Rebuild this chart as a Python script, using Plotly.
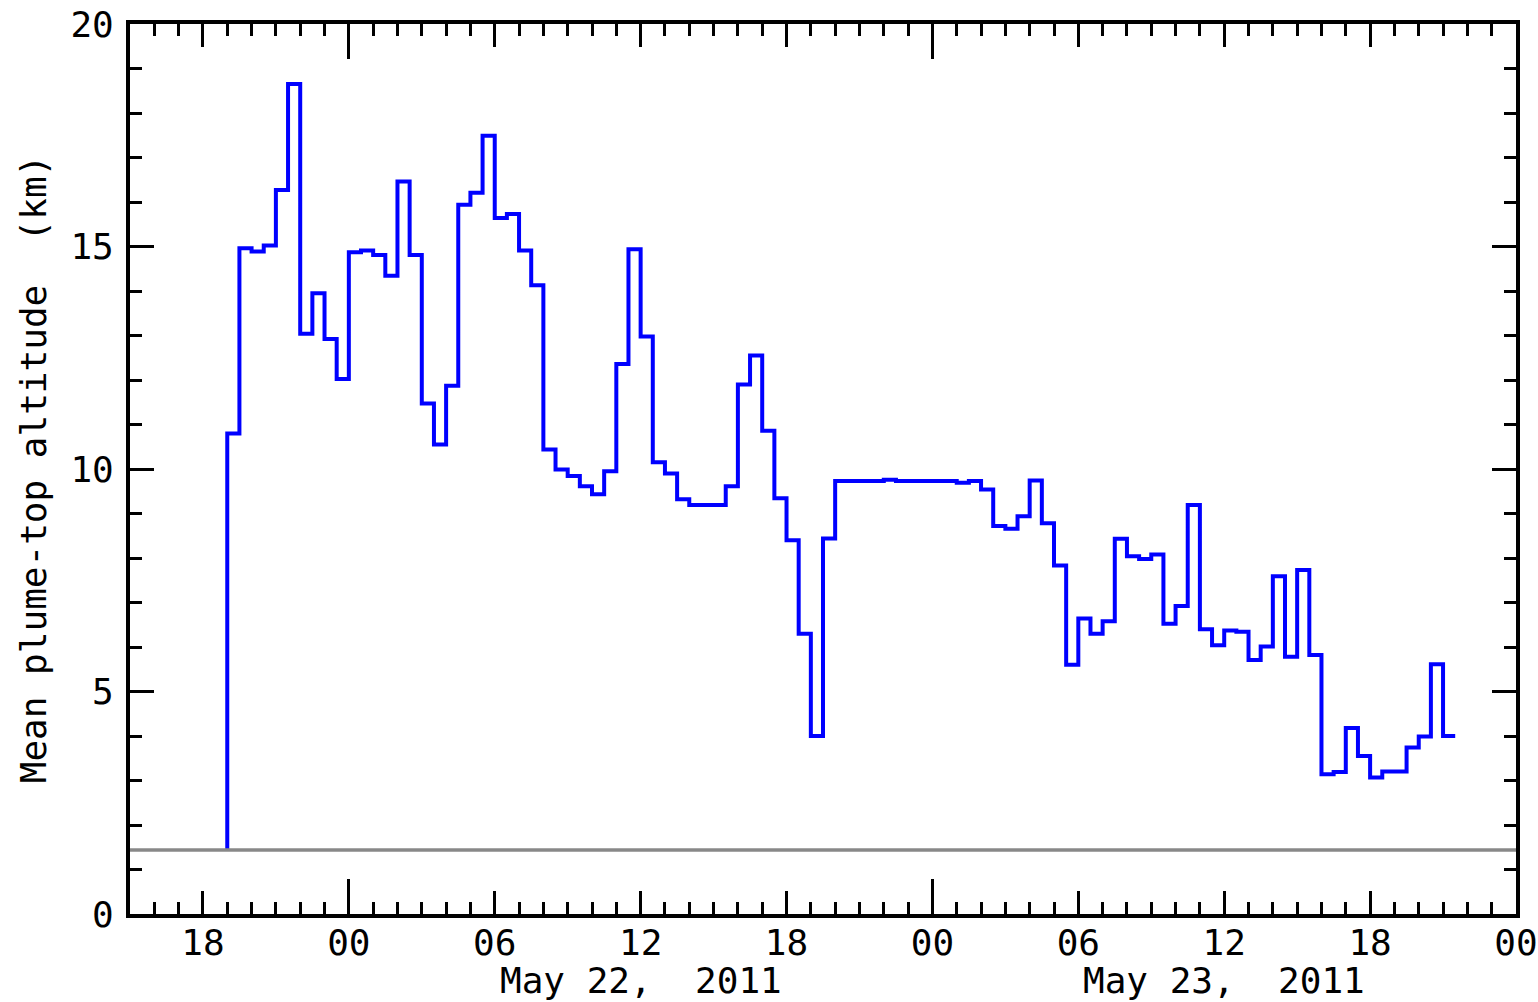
import pandas as pd
import plotly.graph_objects as go

# ---- data ----
bin_start = "2011-05-21 19:00"          # first half-hour bin
bin_minutes = 30
plume_top_km = [
    10.80, 14.96, 14.89, 15.02, 16.27, 18.65, 13.04, 13.95, 12.92, 12.02,
    14.87, 14.91, 14.81, 14.34, 16.46, 14.81, 11.47, 10.55, 11.87, 15.94,
    16.21, 17.49, 15.64, 15.73, 14.91, 14.13, 10.44, 9.99, 9.84, 9.61,
    9.43, 9.95, 12.36, 14.94, 12.98, 10.15, 9.90, 9.32, 9.19, 9.19,
    9.19, 9.61, 11.90, 12.55, 10.86, 9.34, 8.40, 6.30, 4.00, 8.44,
    9.73, 9.73, 9.73, 9.73, 9.76, 9.73, 9.73, 9.73, 9.73, 9.73,
    9.69, 9.73, 9.54, 8.72, 8.66, 8.94, 9.74, 8.78, 7.83, 5.60,
    6.64, 6.30, 6.58, 8.43, 8.04, 7.98, 8.08, 6.52, 6.92, 9.19,
    6.40, 6.04, 6.37, 6.34, 5.71, 6.01, 7.59, 5.78, 7.73, 5.82,
    3.14, 3.19, 4.18, 3.55, 3.07, 3.20, 3.20, 3.74, 3.99, 5.61,
    4.00,
]
vent_altitude_km = 1.44

x_range = ["2011-05-21 15:00", "2011-05-24 00:00"]
tick_vals = ["2011-05-21 18:00", "2011-05-22 00:00", "2011-05-22 06:00",
             "2011-05-22 12:00", "2011-05-22 18:00", "2011-05-23 00:00",
             "2011-05-23 06:00", "2011-05-23 12:00", "2011-05-23 18:00",
             "2011-05-24 00:00"]
tick_text = ["18", "00", "06", "12", "18", "00", "06", "12", "18", "00"]
day_ticks = ["2011-05-22 00:00", "2011-05-23 00:00"]
date_labels = ["May 22,  2011", "May 23,  2011"]
date_label_pos = ["2011-05-22 12:00", "2011-05-23 12:00"]
y_tick_vals = [0, 5, 10, 15, 20]

# ---- build step series ----
n = len(plume_top_km)
edges = pd.date_range(bin_start, periods=n + 1, freq=f"{bin_minutes}min")
xs = [edges[0]] + list(edges[:n]) + [edges[n]]
ys = [vent_altitude_km] + plume_top_km + [plume_top_km[-1]]

FONT = "DejaVu Sans Mono"
FS = 36

fig = go.Figure()
fig.add_trace(go.Scatter(
    x=x_range, y=[vent_altitude_km, vent_altitude_km], xaxis="x2",
    mode="lines", line=dict(color="#888888", width=3.5),
    hoverinfo="skip", showlegend=False))
fig.add_trace(go.Scatter(
    x=xs, y=ys, mode="lines", line=dict(color="#0000ff", width=4, shape="hv"),
    showlegend=False))

axis_common = dict(showline=True, linecolor="black", linewidth=4,
                   showgrid=False, zeroline=False, ticks="inside",
                   tickcolor="black", tickwidth=3, mirror="ticks",
                   automargin=False)

fig.update_layout(
    width=1538, height=1002,
    margin=dict(l=130, r=22, t=24, b=88),
    paper_bgcolor="white", plot_bgcolor="white",
    font=dict(family=FONT, size=FS, color="black"),
    xaxis=dict(type="date", range=x_range, tickvals=tick_vals, ticktext=tick_text,
               ticklen=23, tickfont=dict(size=FS),
               minor=dict(dtick=3600000, tick0="2011-05-21 15:00", ticklen=12,
                          tickwidth=3, tickcolor="black", ticks="inside"),
               ticklabelstandoff=-6, **axis_common),
    xaxis2=dict(type="date", range=x_range, overlaying="x", side="bottom",
                tickvals=day_ticks, ticklen=35, showticklabels=False,
                **axis_common),
    yaxis=dict(range=[0, 20], tickvals=y_tick_vals, ticklen=24,
               tickfont=dict(size=FS),
               minor=dict(dtick=1, ticklen=12, tickwidth=3, tickcolor="black",
                          ticks="inside"),
               ticklabelstandoff=5,
               title=dict(text="Mean plume-top altitude  (km)",
                          font=dict(size=FS), standoff=14),
               **axis_common),
)

for lbl, pos in zip(date_labels, date_label_pos):
    fig.add_annotation(x=pos, y=0, xref="x", yref="paper", text=lbl,
                       showarrow=False, yanchor="middle", yshift=-66,
                       font=dict(size=FS, family=FONT, color="black"))

fig.write_html("out.html")
